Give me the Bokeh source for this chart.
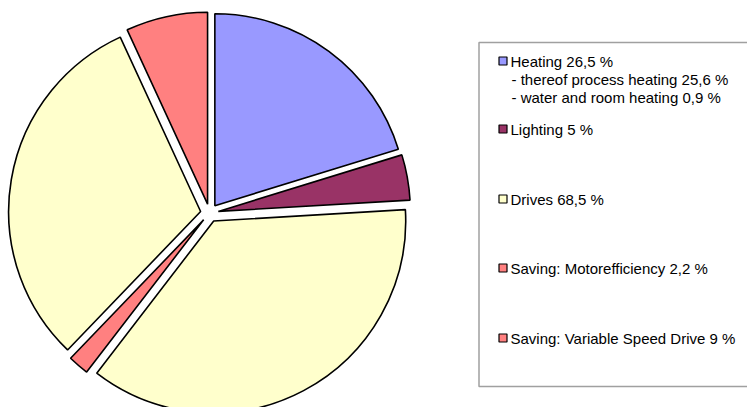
import math
from bokeh.plotting import figure
from bokeh.models import Range1d, ColumnDataSource
from bokeh.core.properties import value
from bokeh.embed import file_html
from bokeh.resources import INLINE

# ---- data (slice values, clockwise from 12 o'clock) ----
slice_names = ["Heating", "Lighting", "Drives", "Saving: Motorefficiency", "Drives", "Saving: Variable Speed Drive"]
slice_values = [26.5, 5.0, 47.6, 2.3, 40.5, 9.0]
slice_colors = ["#9999FF", "#993366", "#FFFFCC", "#FF8080", "#FFFFCC", "#FF8080"]

legend_labels = ["Heating 26,5 %", "Lighting 5 %", "Drives 68,5 %",
                 "Saving: Motorefficiency 2,2 %", "Saving: Variable Speed Drive 9 %"]
legend_colors = ["#9999FF", "#993366", "#FFFFCC", "#FF8080", "#FF8080"]
heating_sublines = ["- thereof process heating 25,6 %", "- water and room heating 0,9 %"]

# ---- layout (pixels of the picture) ----
W, H = 747, 407
def sy(y):  # picture y -> data y
    return H - y

CX, CY = 209.0, sy(212.5)
R = 192.0
EXPLODE = 9.0

p = figure(width=W, height=H, output_backend="svg", toolbar_location=None,
           x_range=Range1d(0, W), y_range=Range1d(0, H),
           min_border=0)
p.axis.visible = False
p.grid.visible = False
p.outline_line_color = None
p.background_fill_color = "white"
p.border_fill_color = "white"

total = sum(slice_values)
xs, ys, starts, ends = [], [], [], []
a = math.pi / 2
for v in slice_values:
    span = v / total * 2 * math.pi
    s, e = a, a - span
    mid = (s + e) / 2
    xs.append(CX + EXPLODE * math.cos(mid))
    ys.append(CY + EXPLODE * math.sin(mid))
    starts.append(s)
    ends.append(e)
    a = e

src = ColumnDataSource(dict(x=xs, y=ys, start=starts, end=ends, color=slice_colors))
p.wedge(x="x", y="y", radius=R, start_angle="start", end_angle="end",
        direction="clock", fill_color="color", line_color="black", line_width=1.6,
        source=src)

# legend box
p.quad(left=[478.5], right=[790], top=[sy(42)], bottom=[sy(386)],
       fill_color=None, line_color="#a0a0a0", line_width=1.5)

row_y = [60.5, 128.5, 198.5, 267.5, 337.5]
sub_y = [78.5, 96.5]
p.rect(x=[502.5] * 5, y=[sy(v) for v in row_y], width=8, height=8,
       fill_color=legend_colors, line_color="black", line_width=1.2)
p.text(x=[510] * 5, y=[sy(v) for v in row_y], text=legend_labels,
       text_font=value("Liberation Sans"), text_font_size="15px",
       text_baseline="middle", text_align="left", text_color="black")
p.text(x=[511] * 2, y=[sy(v) for v in sub_y], text=heating_sublines,
       text_font=value("Liberation Sans"), text_font_size="15px",
       text_baseline="middle", text_align="left", text_color="black")

open("out.html", "w").write(file_html(p, INLINE))
